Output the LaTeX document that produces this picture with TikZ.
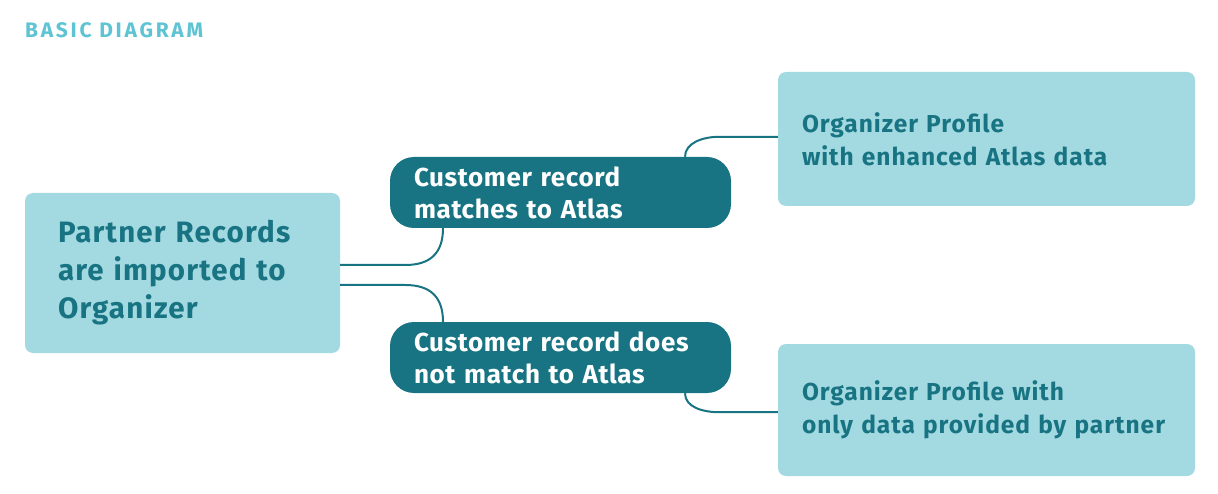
\documentclass[tikz,border=0pt]{standalone}
\usepackage{fontspec}
\setmainfont{Fira Sans}
\usepackage{tikz}
\usetikzlibrary{positioning,calc}
\definecolor{lightbox}{HTML}{A3D9E1}
\definecolor{darkteal}{HTML}{187482}
\definecolor{titleblue}{HTML}{5EC3D2}
\tikzset{
  inbox/.style={fill=lightbox,rounded corners=8pt,text=darkteal,align=left,
    inner ysep=0pt,font=\bfseries},
  outbox/.style={fill=darkteal,rounded corners=24pt,text=white,align=left,
    inner xsep=24pt,inner ysep=0pt,text width=293pt,minimum height=71pt,
    font=\bfseries\fontsize{26}{32}\selectfont\addfontfeatures{LetterSpace=2.5}},
  resultbox/.style={inbox,inner xsep=24pt,text width=369pt,
    font=\bfseries\fontsize{24.5}{33}\selectfont\addfontfeatures{LetterSpace=4}},
  link/.style={draw=darkteal,line width=2pt},
}

\begin{document}
\begin{tikzpicture}[x=1pt,y=-1pt]
\useasboundingbox (0,0) rectangle (1218,494);
\node[anchor=west,inner sep=0pt,text=titleblue,font=\bfseries\fontsize{21}{22}\selectfont\addfontfeatures{LetterSpace=13}]
  (title) at (25,30) {BASIC DIAGRAM};
\node[inbox,inner xsep=33pt,text width=249pt,minimum height=160pt,
  font=\bfseries\fontsize{29.5}{38}\selectfont\addfontfeatures{LetterSpace=4}] (partner) at (182.5,273)
  {Partner Records\\are imported to\\Organizer};
\node[outbox] (match) at (560.5,192.5) {Customer record\\matches to Atlas};
\node[outbox] (nomatch) at (560.5,357.5) {Customer record does\\not match to Atlas};
\node[resultbox,minimum height=134pt] (enhanced) at (986.5,139)
  {Organizer Profile\\with enhanced Atlas data};
\node[resultbox,minimum height=132pt] (partnerdata) at (986.5,410)
  {Organizer Profile with\\only data provided by partner};
% branches
\draw[link] ([yshift=8pt]partner.east) -- ++(65,0)
  .. controls +(25,0) and +(0,25) .. ([xshift=-117.5pt]match.south);
\draw[link] ([yshift=-12pt]partner.east) -- ++(65,0)
  .. controls +(25,0) and +(0,-25) .. ([xshift=-117.5pt]nomatch.north);
\draw[link] ([xshift=124.5pt]match.north)
  .. controls +(0,-14) and +(-16,0) .. ++(34,-20) -- ([yshift=2pt]enhanced.west);
\draw[link] ([xshift=124.5pt]nomatch.south)
  .. controls +(0,14) and +(-16,0) .. ++(34,19) -- ([yshift=-2pt]partnerdata.west);
\end{tikzpicture}
\end{document}
